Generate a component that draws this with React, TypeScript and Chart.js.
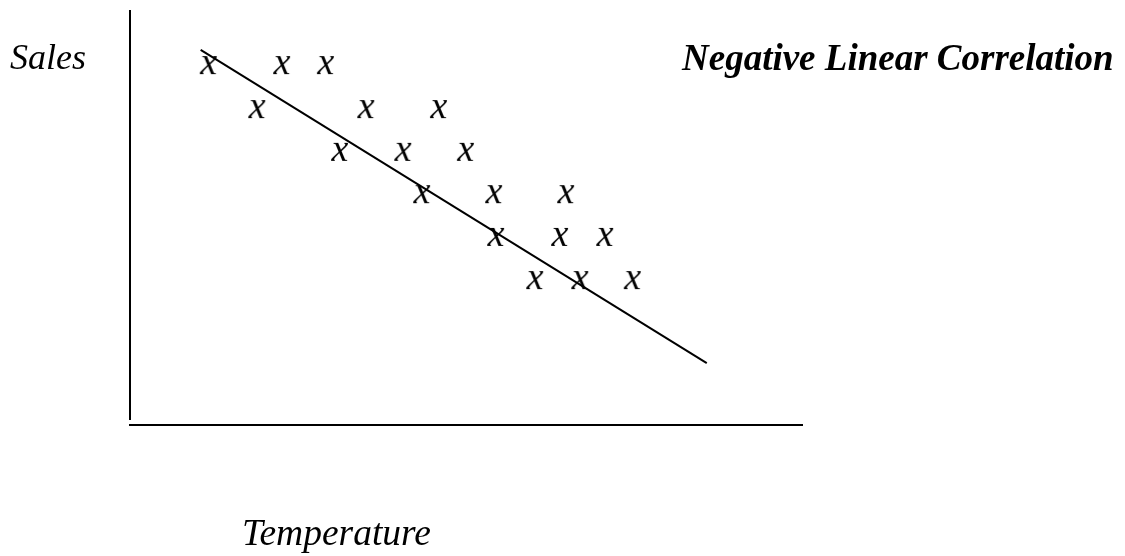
import React, { useEffect, useRef } from "react";
import { Chart, registerables } from "chart.js";

Chart.register(...registerables);

// Scatter values (arbitrary temperature / sales units)
const temperature = [
  11.7, 22.6, 29.1,
  18.9, 35.1, 45.9,
  31.2, 40.6, 49.9,
  43.4, 54.1, 64.8,
  54.4, 63.9, 70.6,
  60.2, 66.9, 74.7,
];
const sales = [
  87.2, 87.2, 87.2,
  76.6, 76.6, 76.6,
  66.3, 66.3, 66.3,
  56.1, 56.1, 56.1,
  45.8, 45.8, 45.8,
  35.4, 35.4, 35.4,
];
// Trend line end points
const trendTemperature = [10.5, 85.7];
const trendSales = [90.4, 14.9];

const titleText = "Negative Linear Correlation";
const yAxisLabel = "Sales";
const xAxisLabel = "Temperature";

const SERIF = "'Liberation Serif', 'Times New Roman', serif";

function makeXMarker(): HTMLCanvasElement {
  const c = document.createElement("canvas");
  c.width = 30;
  c.height = 30;
  const ctx = c.getContext("2d")!;
  ctx.fillStyle = "#000";
  ctx.font = `italic 38px ${SERIF}`;
  ctx.textAlign = "center";
  ctx.textBaseline = "alphabetic";
  ctx.fillText("x", 15, 15 + 11);
  return c;
}

const axesAndLabels = {
  id: "axesAndLabels",
  afterDraw(chart: any) {
    const ctx = chart.ctx;
    const { top, left, right } = chart.chartArea;
    const xs = chart.scales.x;
    const ys = chart.scales.y;
    const x0 = xs.getPixelForValue(0);
    const y0 = ys.getPixelForValue(0);
    ctx.save();
    ctx.strokeStyle = "#000";
    ctx.lineWidth = 2;
    // vertical axis line
    ctx.beginPath();
    ctx.moveTo(x0, top);
    ctx.lineTo(x0, y0 - 5);
    ctx.stroke();
    // horizontal axis line
    ctx.beginPath();
    ctx.moveTo(left - 1, y0);
    ctx.lineTo(right, y0);
    ctx.stroke();

    ctx.fillStyle = "#000";
    ctx.textAlign = "left";
    ctx.textBaseline = "alphabetic";
    ctx.font = `italic 36px ${SERIF}`;
    ctx.fillText(yAxisLabel, 10, 69);
    ctx.font = `italic 37.5px ${SERIF}`;
    ctx.fillText(xAxisLabel, 242, 545);
    ctx.font = `italic bold 37px ${SERIF}`;
    ctx.fillText(titleText, 682, 70);
    ctx.restore();
  },
};

export default function App() {
  const ref = useRef<HTMLCanvasElement | null>(null);
  useEffect(() => {
    if (!ref.current) return;
    const marker = makeXMarker();
    const chart = new Chart(ref.current, {
      type: "scatter",
      data: {
        datasets: [
          {
            type: "line",
            data: trendTemperature.map((t, i) => ({ x: t, y: trendSales[i] })),
            borderColor: "#000",
            borderWidth: 2,
            pointRadius: 0,
            fill: false,
          } as any,
          {
            data: temperature.map((t, i) => ({ x: t, y: sales[i] })),
            pointStyle: marker as any,
            pointRadius: 5,
            borderColor: "#000",
            backgroundColor: "#000",
          },
        ],
      },
      options: {
        responsive: false,
        animation: false,
        layout: { padding: { left: 130, right: 322, top: 10, bottom: 131 } },
        plugins: { legend: { display: false }, tooltip: { enabled: false }, title: { display: false } },
        scales: {
          x: { type: "linear", min: 0, max: 100, display: false },
          y: { type: "linear", min: 0, max: 100, display: false },
        },
      },
      plugins: [axesAndLabels],
    });
    return () => chart.destroy();
  }, []);
  return (
    <div style={{ position: "fixed", left: 0, top: 0, width: 1125, height: 556, background: "#fff" }}>
      <canvas ref={ref} width={1125} height={556} />
    </div>
  );
}
